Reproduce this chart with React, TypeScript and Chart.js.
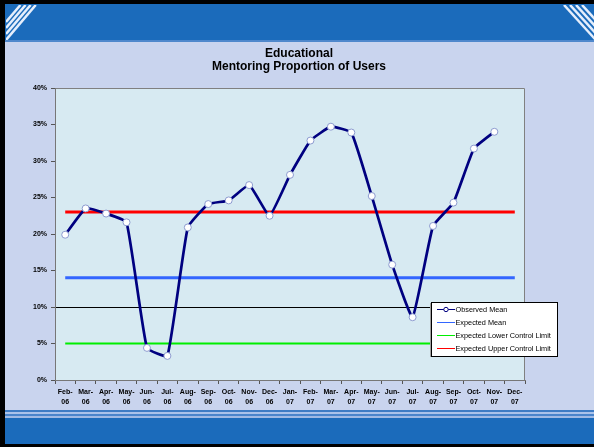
import React, { useEffect, useRef } from 'react';
import { Chart, registerables } from 'chart.js';

Chart.register(...registerables);

const months = ['Feb', 'Mar', 'Apr', 'May', 'Jun', 'Jul', 'Aug', 'Sep', 'Oct', 'Nov', 'Dec', 'Jan', 'Feb', 'Mar', 'Apr', 'May', 'Jun', 'Jul', 'Aug', 'Sep', 'Oct', 'Nov', 'Dec'];
const years = ['06', '06', '06', '06', '06', '06', '06', '06', '06', '06', '06', '07', '07', '07', '07', '07', '07', '07', '07', '07', '07', '07', '07'];
const observedMean = [19.9, 23.5, 22.8, 21.6, 4.4, 3.3, 20.9, 24.1, 24.6, 26.7, 22.5, 28.1, 32.8, 34.7, 33.9, 25.2, 15.8, 8.6, 21.1, 24.3, 31.7, 34.0, null];
const expectedMean = 14;
const expectedLowerLimit = 5;
const expectedUpperLimit = 23;
const referenceLine = 10;
const yMin = 0;
const yMax = 40;
const yStep = 5;
const titleLines = ['Educational', 'Mentoring Proportion of Users'];

const FONT = '"Liberation Sans", Arial, Helvetica, sans-serif';

const framePlugin = {
  id: 'frame',
  beforeDraw(chart: any) {
    const ctx = chart.ctx;
    const W = chart.width;
    const H = chart.height;
    ctx.save();
    ctx.fillStyle = '#c9d4ee';
    ctx.fillRect(0, 0, W, H);
    // top banner
    ctx.fillStyle = '#1b6bbb';
    ctx.fillRect(0, 0, W, 41);
    ctx.fillStyle = '#4f88cc';
    ctx.fillRect(0, 40, W, 2);
    // stripes top-left
    ctx.save();
    ctx.beginPath();
    ctx.rect(6, 5, 32, 35);
    ctx.clip();
    ctx.strokeStyle = 'rgba(240,245,255,0.95)';
    ctx.lineWidth = 2.5;
    for (let k = 0; k < 4; k++) {
      const y0 = 22 + k * 6;
      ctx.beginPath();
      ctx.moveTo(6, y0);
      ctx.lineTo(6 + (y0 - 5) * 0.85, 5);
      ctx.stroke();
    }
    ctx.restore();
    // stripes top-right
    ctx.save();
    ctx.beginPath();
    ctx.rect(556, 5, 40, 35);
    ctx.clip();
    ctx.strokeStyle = 'rgba(240,245,255,0.95)';
    ctx.lineWidth = 2.5;
    for (let k = 0; k < 4; k++) {
      const x0 = 564 + k * 6;
      ctx.beginPath();
      ctx.moveTo(x0, 5);
      ctx.lineTo(x0 + 40, 5 + 40 * 1.1);
      ctx.stroke();
    }
    ctx.restore();
    // bottom band
    ctx.fillStyle = '#3d7bc4';
    ctx.fillRect(0, 410, W, 2);
    ctx.fillStyle = '#aac2ea';
    ctx.fillRect(0, 412, W, 2);
    ctx.fillStyle = '#4a84cb';
    ctx.fillRect(0, 414, W, 2);
    ctx.fillStyle = '#9fb9e4';
    ctx.fillRect(0, 416, W, 2);
    ctx.fillStyle = '#1b6bbb';
    ctx.fillRect(0, 418, W, 27);
    // black borders
    ctx.fillStyle = '#000';
    ctx.fillRect(0, 0, W, 4);
    ctx.fillRect(0, 0, 5, H);
    ctx.fillRect(0, 444, W, 3);
    // plot background
    const a = chart.chartArea;
    ctx.fillStyle = '#d7eaf2';
    ctx.fillRect(a.left, a.top, a.right - a.left, a.bottom - a.top);
    ctx.strokeStyle = '#808080';
    ctx.lineWidth = 1;
    ctx.beginPath();
    ctx.moveTo(a.left, a.top + 0.5);
    ctx.lineTo(a.right - 0.5, a.top + 0.5);
    ctx.lineTo(a.right - 0.5, a.bottom);
    ctx.stroke();
    // title
    ctx.fillStyle = '#000';
    ctx.font = `bold 12px ${FONT}`;
    ctx.textAlign = 'center';
    ctx.textBaseline = 'middle';
    ctx.fillText(titleLines[0], 299, 54);
    ctx.fillText(titleLines[1], 299, 67);
    ctx.restore();
  },
};

const legendPlugin = {
  id: 'customLegend',
  afterDraw(chart: any) {
    const ctx = chart.ctx;
    const x = 431;
    const y = 302;
    const w = 126;
    const h = 54;
    ctx.save();
    ctx.fillStyle = '#a0a0a0';
    ctx.fillRect(x - 1, y + 1, 2, h);
    ctx.fillStyle = '#ffffff';
    ctx.fillRect(x, y, w, h);
    ctx.strokeStyle = '#000';
    ctx.lineWidth = 1;
    ctx.strokeRect(x + 0.5, y + 0.5, w, h);
    const items = chart.data.datasets.filter((d: any) => d.showInLegend);
    ctx.font = `7.3px ${FONT}`;
    ctx.textBaseline = 'middle';
    ctx.textAlign = 'left';
    items.forEach((d: any, i: number) => {
      const ry = y + 7.5 + i * 13;
      ctx.strokeStyle = d.borderColor;
      ctx.lineWidth = 1;
      ctx.beginPath();
      ctx.moveTo(x + 6, ry);
      ctx.lineTo(x + 24, ry);
      ctx.stroke();
      if (d.pointRadius > 0) {
        ctx.fillStyle = '#fff';
        ctx.beginPath();
        ctx.arc(x + 15, ry, 2.2, 0, Math.PI * 2);
        ctx.fill();
        ctx.stroke();
      }
      ctx.fillStyle = '#000';
      ctx.fillText(d.label, x + 24.5, ry);
    });
    ctx.restore();
  },
};

export default function App() {
  const canvasRef = useRef<HTMLCanvasElement | null>(null);

  useEffect(() => {
    document.body.style.margin = '0';
    const canvas = canvasRef.current;
    if (!canvas) return;
    const labels = months.map((m, i) => [m + '-', years[i]]);
    const constant = (v: number) => labels.map(() => v);
    const chart = new Chart(canvas, {
      type: 'line',
      data: {
        labels,
        datasets: [
          {
            label: 'Observed Mean',
            data: observedMean,
            borderColor: '#000080',
            borderWidth: 2.7,
            pointRadius: 3.5,
            pointBackgroundColor: '#ffffff',
            pointBorderColor: '#8d9bd0',
            pointBorderWidth: 1,
            tension: 0.12,
            showInLegend: true,
          } as any,
          {
            label: 'Expected Mean',
            data: constant(expectedMean),
            borderColor: '#3366ff',
            borderWidth: 3,
            pointRadius: 0,
            showInLegend: true,
          } as any,
          {
            label: 'Expected Lower Control Limit',
            data: constant(expectedLowerLimit),
            borderColor: '#00ee00',
            borderWidth: 2,
            pointRadius: 0,
            showInLegend: true,
          } as any,
          {
            label: 'Expected Upper Control Limit',
            data: constant(expectedUpperLimit),
            borderColor: '#ff0000',
            borderWidth: 3,
            pointRadius: 0,
            showInLegend: true,
          } as any,
        ],
      },
      options: {
        animation: false,
        responsive: false,
        devicePixelRatio: 1,
        layout: { padding: { top: 88, right: 69, left: 0, bottom: 0 } },
        plugins: {
          legend: { display: false },
          tooltip: { enabled: false },
          title: { display: false },
        },
        scales: {
          x: {
            type: 'category',
            offset: true,
            afterFit: (s: any) => { s.height = 67; },
            grid: {
              offset: true,
              drawOnChartArea: false,
              drawTicks: true,
              tickLength: 4,
              tickColor: '#555',
            },
            border: { color: '#777', width: 1 },
            ticks: {
              autoSkip: false,
              maxRotation: 0,
              minRotation: 0,
              padding: 3,
              color: '#000',
              font: { family: FONT, size: 7, weight: 'bold', lineHeight: 1.4 },
            },
          },
          y: {
            min: yMin,
            max: yMax,
            afterFit: (s: any) => { s.width = 55; },
            grid: {
              color: (c: any) => (c.tick && c.tick.value === referenceLine ? '#000' : 'rgba(0,0,0,0)'),
              lineWidth: 1,
              drawTicks: true,
              tickLength: 4,
              tickColor: '#555',
            },
            border: { color: '#777', width: 1 },
            ticks: {
              stepSize: yStep,
              padding: 4,
              color: '#000',
              font: { family: FONT, size: 7, weight: 'bold' },
              callback: (v: any) => `${v}%`,
            },
          },
        },
      } as any,
      plugins: [framePlugin, legendPlugin],
    });
    return () => chart.destroy();
  }, []);

  return (
    <div style={{ position: 'absolute', left: 0, top: 0, width: 594, height: 447 }}>
      <canvas ref={canvasRef} width={594} height={447} style={{ display: 'block', width: 594, height: 447 }} />
    </div>
  );
}
